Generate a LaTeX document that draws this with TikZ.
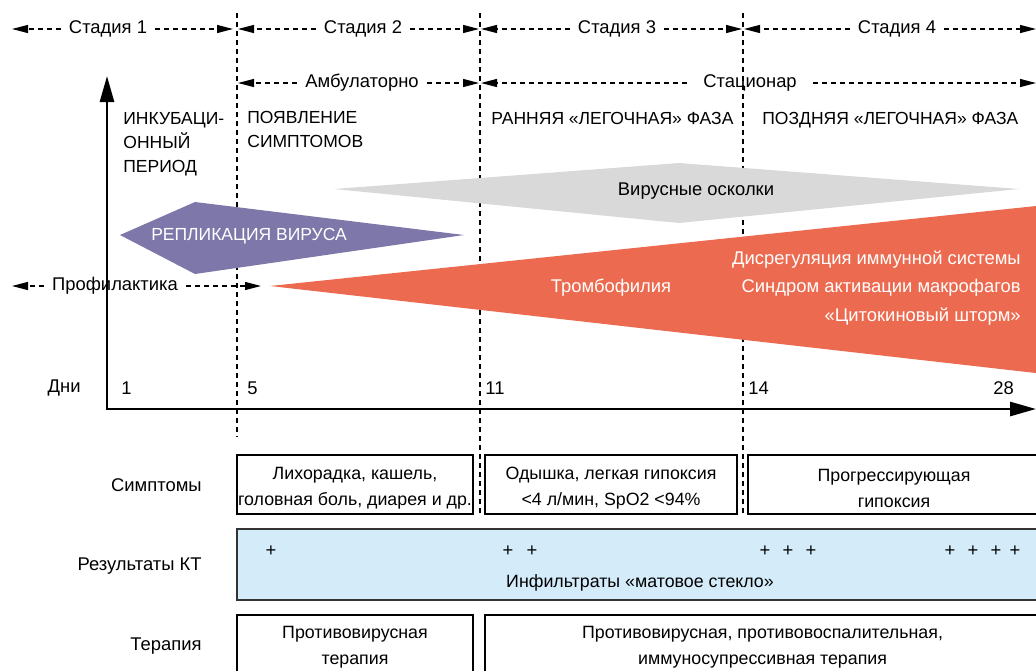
\documentclass[tikz,border=0pt]{standalone}
\usepackage{fontspec}
\setmainfont{Liberation Sans}
\usetikzlibrary{arrows.meta}

\definecolor{virpurple}{HTML}{7D78A9}
\definecolor{virgray}{HTML}{D9D9D9}
\definecolor{thrombred}{HTML}{EC6A4F}
\definecolor{ctblue}{HTML}{D4EBF9}

\begin{document}
\begin{tikzpicture}[x=0.5pt,y=-0.5pt,
    font=\fontsize{9.2}{12}\selectfont,
    stagesep/.style={dash pattern=on 2.5pt off 2pt,line width=0.6pt},
    span/.style={dash pattern=on 2.5pt off 2pt,line width=0.6pt,-{Triangle[length=8pt,width=4pt]}},
    spantext/.style={inner sep=4pt},
    phase/.style={anchor=base west,align=left,inner sep=0pt,font=\fontsize{8.75}{11.8}\selectfont},
    axis/.style={line width=1.35pt,line join=miter,{Triangle[length=13pt,width=7pt]}-{Triangle[length=13pt,width=7pt]}},
    daylabel/.style={anchor=west,inner sep=0pt},
    rowlabel/.style={anchor=east,inner sep=0pt},
    box/.style={draw,line width=0.65pt,inner sep=0pt},
    boxtext/.style={align=center,inner sep=0pt,font=\fontsize{8.9}{13}\selectfont},
    inshape/.style={text=white,inner sep=0pt}]
    \clip (0,0) rectangle (1036,670);

    % stage borders
    \draw[stagesep] (237,13) -- (237,437);
    \draw[stagesep] (480,13) -- (480,515);
    \draw[stagesep] (743,13) -- (743,515);

    % stages
    \node[spantext] (st1) at (108,29) {Стадия 1};
    \coordinate (st1l) at (12,29);
    \coordinate (st1r) at (233,29);
    \draw[span] (st1) -- (st1l);
    \draw[span] (st1) -- (st1r);

    \node[spantext] (st2) at (363,29) {Стадия 2};
    \coordinate (st2l) at (238,29);
    \coordinate (st2r) at (479,29);
    \draw[span] (st2) -- (st2l);
    \draw[span] (st2) -- (st2r);

    \node[spantext] (st3) at (617,29) {Стадия 3};
    \coordinate (st3l) at (481,29);
    \coordinate (st3r) at (742,29);
    \draw[span] (st3) -- (st3l);
    \draw[span] (st3) -- (st3r);

    \node[spantext] (st4) at (897,29) {Стадия 4};
    \coordinate (st4l) at (744,29);
    \coordinate (st4r) at (1036,29);
    \draw[span] (st4) -- (st4l);
    \draw[span] (st4) -- (st4r);

    % where treated
    \node[spantext] (amb) at (362,83) {Амбулаторно};
    \coordinate (ambl) at (238,83);
    \coordinate (ambr) at (479,83);
    \draw[span] (amb) -- (ambl);
    \draw[span] (amb) -- (ambr);

    \node[spantext,inner xsep=8pt] (stac) at (750,83) {Стационар};
    \coordinate (stacl) at (481,83);
    \coordinate (stacr) at (1036,83);
    \draw[span] (stac) -- (stacl);
    \draw[span] (stac) -- (stacr);

    % phases (base = last line)
    \node[phase] (incub) at (123,172) {ИНКУБАЦИ-\\ОННЫЙ\\ПЕРИОД};
    \node[phase] (onset) at (247,147) {ПОЯВЛЕНИЕ\\СИМПТОМОВ};
    \node[phase] (early) at (491,124) {РАННЯЯ «ЛЕГОЧНАЯ» ФАЗА};
    \node[phase] (late) at (762,124) {ПОЗДНЯЯ «ЛЕГОЧНАЯ» ФАЗА};

    % processes
    \fill[virgray] (334,189) -- (679,163) -- (1019,189) -- (679,223) -- cycle;
    \node[inner sep=0pt] (debris) at (696,191) {Вирусные осколки};

    \fill[virpurple] (120,235) -- (195,202) -- (464,235) -- (195,274) -- cycle;
    \node[inshape,font=\fontsize{8.75}{11}\selectfont] (repl) at (249,236) {РЕПЛИКАЦИЯ ВИРУСА};

    \fill[thrombred] (270,286) -- (1040,205.6) -- (1040,373.5) -- cycle;
    \node[inshape] (thromb) at (611,288) {Тромбофилия};
    \node[inshape,anchor=east] (dysreg) at (1021,260) {Дисрегуляция иммунной системы};
    \node[inshape,anchor=east] (mas) at (1021,288) {Синдром активации макрофагов};
    \node[inshape,anchor=east] (storm) at (1021,317) {«Цитокиновый шторм»};

    % prophylaxis
    \node[spantext] (proph) at (115,286) {Профилактика};
    \coordinate (prophl) at (12,286);
    \coordinate (prophr) at (261,286);
    \draw[span] (proph) -- (prophl);
    \draw[span] (proph) -- (prophr);

    % axes
    \coordinate (yend) at (107,76);
    \coordinate (origin) at (107,409);
    \coordinate (xend) at (1036,409);
    \draw[axis] (yend) -- (origin) -- (xend);

    \node[rowlabel] (days) at (81,388) {Дни};
    \node[daylabel] (d1) at (121,388) {1};
    \node[daylabel] (d5) at (247,388) {5};
    \node[daylabel] (d11) at (485,388) {11};
    \node[daylabel] (d14) at (748,388) {14};
    \node[daylabel] (d28) at (993,388) {28};

    % symptoms
    \node[rowlabel] (symlab) at (202,485) {Симптомы};
    \node[box,minimum width=118pt,minimum height=29.5pt] (sym1) at (355,484.5) {};
    \node[boxtext] (sym1t) at (355,488.5) {Лихорадка, кашель,\\головная боль, диарея и др.};
    \node[box,minimum width=126pt,minimum height=29.5pt] (sym2) at (611,484.5) {};
    \node[boxtext] (sym2t) at (611,488.5) {Одышка, легкая гипоксия\\<4 л/мин, SpO2 <94\%};
    \node[box,minimum width=146pt,minimum height=29.5pt] (sym3) at (894,484.5) {};
    \node[boxtext] (sym3t) at (894,488.5) {Прогрессирующая\\гипоксия};

    % CT
    \node[rowlabel] (ctlab) at (202,566) {Результаты КТ};
    \node[box,draw=black!80,fill=ctblue,minimum width=401.5pt,minimum height=35.5pt] (ct) at (638.5,564.5) {};
    \foreach \px in {271,508,532,765,788,811,950,973,996,1015}
        \node[inner sep=0pt] (plus\px) at (\px,551) {+};
    \node[inner sep=0pt,font=\fontsize{8.9}{11}\selectfont] (ggo) at (640,583) {Инфильтраты «матовое стекло»};

    % therapy
    \node[rowlabel] (thlab) at (202,646) {Терапия};
    \node[box,minimum width=118pt,minimum height=30pt] (th1) at (355,645) {};
    \node[boxtext] (th1t) at (355,647) {Противовирусная\\терапия};
    \node[box,minimum width=277.5pt,minimum height=30pt] (th2) at (762.5,645) {};
    \node[boxtext] (th2t) at (762.5,647) {Противовирусная, противовоспалительная,\\иммуносупрессивная терапия};
\end{tikzpicture}
\end{document}
